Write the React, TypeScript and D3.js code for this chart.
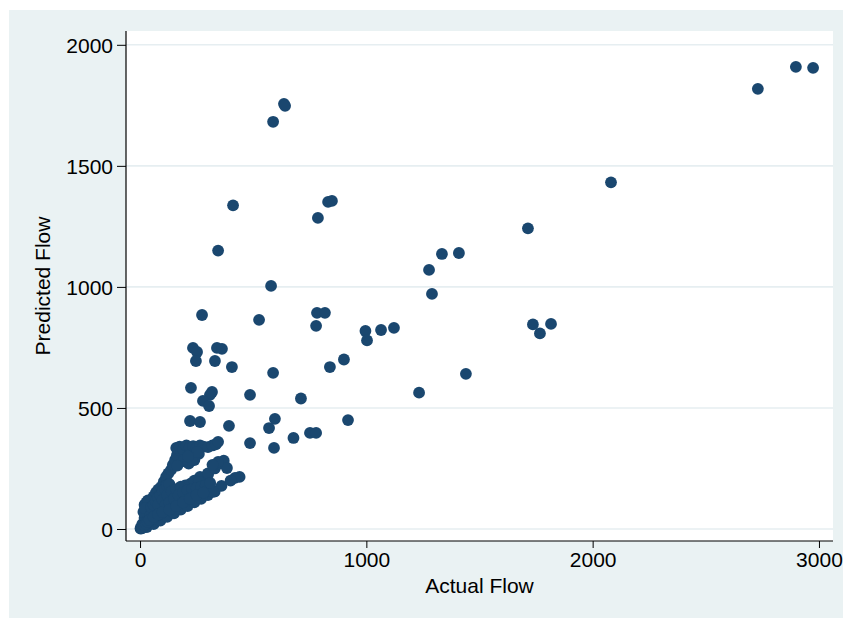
import React, { useRef, useEffect } from 'react'
import * as d3 from 'd3'

// values (Actual Flow, Predicted Flow)
const outlierActual = [
  2898, 2974, 2730, 2081, 1714, 1409, 1334, 1277, 1290, 1736, 1767, 1816, 1122, 1065, 996, 1003,
  1233, 1440, 901, 839, 919, 711, 678, 751, 778, 636, 641, 588, 411, 345, 831, 848, 786, 782, 817,
  778, 579, 274, 526, 234, 252, 247, 340, 362, 331, 406, 588, 225, 318, 309, 278, 305, 486, 221,
  265, 393, 596, 570, 486, 592, 440, 420,
]
const outlierPredicted = [
  1909, 1905, 1818, 1432, 1242, 1140, 1136, 1070, 971, 845, 808, 847, 831, 822, 818, 779,
  563, 641, 700, 669, 450, 539, 376, 397, 397, 1756, 1748, 1682, 1337, 1150, 1351, 1355, 1285, 893, 893,
  839, 1004, 884, 864, 748, 731, 694, 748, 744, 694, 669, 645, 583, 566, 554, 529, 508, 554, 446,
  442, 426, 455, 417, 355, 335, 215, 211,
]

// dense cluster near the origin
const clusterActual = [
  // upper arm
  2, 5, 10, 20, 30, 40, 50, 60, 70, 80, 93, 105, 115, 125, 137, 145, 155, 163, 172, 20, 28, 35, 15, 22,
  200, 230, 260, 190, 215, 165, 240,
  // top row
  160, 175, 190, 205, 220, 235, 250, 265, 280, 300, 320, 335, 345, 230, 252, 212,
  // lower arm
  8, 30, 60, 90, 120, 150, 180, 210, 240, 270, 300, 330, 360, 400, 309, 323, 278, 221,
  // between the arms
  40, 60, 80, 100, 120, 140, 160, 180, 200, 220, 240, 260, 50, 70, 90, 110, 130, 150, 170,
  190, 210, 230, 250, 280, 300, 265, 300, 330, 353, 370, 384, 345, 320, 25, 45, 65, 85, 105,
  125, 55, 75, 95, 115, 160, 180, 200, 10, 18, 26, 34, 42, 60, 75, 85, 100, 115,
  50, 60, 70, 80, 90, 100, 110, 120, 130, 80, 100, 120, 140, 160, 180, 200, 220, 240, 260,
  110, 130, 150, 170, 190, 210, 230, 250, 270, 290, 310, 60, 80, 100, 130, 160, 190, 220, 250, 280,
]
const clusterPredicted = [
  2, 8, 20, 45, 70, 100, 120, 135, 150, 162, 174, 195, 215, 230, 244, 265, 285, 305, 326, 100, 110, 118, 70, 85,
  305, 300, 310, 280, 270, 262, 285,
  335, 340, 330, 345, 338, 342, 335, 345, 340, 338, 345, 350, 360, 285, 318, 300,
  3, 8, 20, 35, 50, 65, 80, 95, 110, 125, 140, 155, 178, 200, 182, 153, 140, 140,
  30, 45, 60, 75, 90, 105, 120, 135, 150, 160, 170, 180, 55, 72, 88, 100, 118, 130, 145,
  160, 175, 190, 200, 205, 225, 215, 230, 250, 270, 282, 252, 277, 265, 30, 55, 78, 98, 120,
  140, 40, 60, 65, 85, 110, 120, 135, 5, 15, 22, 30, 38, 95, 120, 140, 160, 180,
  90, 100, 115, 130, 140, 155, 165, 180, 185, 100, 120, 140, 155, 165, 175, 180, 185, 200, 195,
  95, 110, 125, 140, 150, 160, 165, 170, 175, 180, 190, 50, 60, 70, 80, 95, 110, 125, 140, 150,
]

const xTicks = [0, 1000, 2000, 3000]
const yTicks = [0, 500, 1000, 1500, 2000]

const W = 843
const H = 618
const plot = { left: 126, top: 31, right: 833, bottom: 541 }
const navy = '#1a476f'
const font = '"Liberation Sans", Arial, Helvetica, sans-serif'

export default function App() {
  const ref = useRef<SVGSVGElement>(null)

  useEffect(() => {
    const svg = d3.select(ref.current)
    svg.selectAll('*').remove()

    const x = d3.scaleLinear().domain([-62, 3062]).range([plot.left, plot.right])
    const y = d3.scaleLinear().domain([-49.6, 2057]).range([plot.bottom, plot.top])

    const pts = outlierActual
      .map((a, i) => [a, outlierPredicted[i]])
      .concat(clusterActual.map((a, i) => [a, clusterPredicted[i]]))

    svg.append('rect').attr('x', 9).attr('y', 10).attr('width', W - 9).attr('height', H - 10).attr('fill', '#eaf2f3')
    svg
      .append('rect')
      .attr('x', plot.left)
      .attr('y', plot.top)
      .attr('width', plot.right - plot.left)
      .attr('height', plot.bottom - plot.top)
      .attr('fill', '#fff')

    // grid
    svg
      .append('g')
      .selectAll('line')
      .data(yTicks)
      .enter()
      .append('line')
      .attr('x1', plot.left)
      .attr('x2', plot.right)
      .attr('y1', d => y(d))
      .attr('y2', d => y(d))
      .attr('stroke', '#e6eef1')
      .attr('stroke-width', 1.6)

    // points
    svg
      .append('g')
      .selectAll('circle')
      .data(pts)
      .enter()
      .append('circle')
      .attr('cx', d => x(d[0]))
      .attr('cy', d => y(d[1]))
      .attr('r', 5.9)
      .attr('fill', navy)

    // y axis
    const yAxis = svg
      .append('g')
      .attr('transform', `translate(${plot.left},0)`)
      .call(d3.axisLeft(y).tickValues(yTicks).tickSize(9).tickPadding(4).tickFormat(d3.format('d')))
    yAxis.select('.domain').attr('d', `M0,${plot.top}V${plot.bottom}`).attr('stroke-width', 1.2)
    yAxis.selectAll('text').attr('font-size', 21).attr('font-family', font).attr('fill', '#000').attr('dy', '0.36em')

    // x axis
    const xAxis = svg
      .append('g')
      .attr('transform', `translate(0,${plot.bottom})`)
      .call(d3.axisBottom(x).tickValues(xTicks).tickSize(7).tickPadding(4).tickFormat(d3.format('d')))
    xAxis.select('.domain').attr('d', `M${plot.left},0H${plot.right}`).attr('stroke-width', 1.2)
    xAxis.selectAll('text').attr('font-size', 21).attr('font-family', font).attr('fill', '#000').attr('dy', '0.71em')

    svg
      .append('text')
      .attr('x', (plot.left + plot.right) / 2)
      .attr('y', 593)
      .attr('text-anchor', 'middle')
      .attr('font-size', 21)
      .attr('font-family', font)
      .text('Actual Flow')

    svg
      .append('text')
      .attr('transform', `translate(50,${(plot.top + plot.bottom) / 2}) rotate(-90)`)
      .attr('text-anchor', 'middle')
      .attr('font-size', 21)
      .attr('font-family', font)
      .text('Predicted Flow')
  }, [])

  return (
    <div style={{ position: 'absolute', left: 0, top: 0 }}>
      <svg ref={ref} width={W} height={H} style={{ display: 'block' }} />
    </div>
  )
}
